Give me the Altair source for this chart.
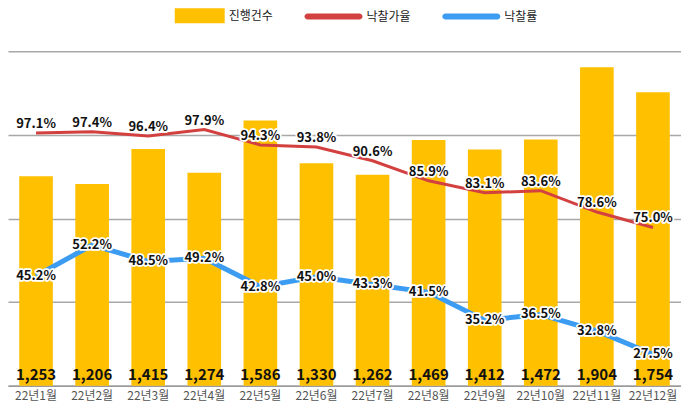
import altair as alt
import pandas as pd

months = ["22년1월", "22년2월", "22년3월", "22년4월", "22년5월", "22년6월",
          "22년7월", "22년8월", "22년9월", "22년10월", "22년11월", "22년12월"]
counts = [1253, 1206, 1415, 1274, 1586, 1330, 1262, 1469, 1412, 1472, 1904, 1754]
price_rate = [97.1, 97.4, 96.4, 97.9, 94.3, 93.8, 90.6, 85.9, 83.1, 83.6, 78.6, 75.0]
sale_rate = [45.2, 52.2, 48.5, 49.2, 42.8, 45.0, 43.3, 41.5, 35.2, 36.5, 32.8, 27.5]

series_names = ["진행건수", "낙찰가율", "낙찰률"]
series_colors = ["#FFC000", "#D2403F", "#3C9CF2"]

df = pd.DataFrame({
    "month": months,
    "count": counts,
    "price": price_rate,
    "sale": sale_rate,
    "series": series_names[0],
})
df["price_label"] = [f"{v:.1f}%" for v in price_rate]
df["sale_label"] = [f"{v:.1f}%" for v in sale_rate]

font = "Noto Sans CJK KR"

x = alt.X(
    "month:N", sort=months, title=None,
    scale=alt.Scale(paddingInner=0.4, paddingOuter=0.2),
    axis=alt.Axis(labelAngle=0, ticks=False, domainColor="#9a9a9a", domainWidth=1.5,
                  labelFontSize=12, labelColor="#555", labelPadding=5, labelFont=font,
                  grid=False),
)

base = alt.Chart(df)

bar_shape = "M-5.667,-1H1V1H-5.667Z"
line_shape = "M-6.333,-0.4H0.6A0.4,0.4 0 0 1 0.6,0.4H-6.333A0.4,0.4 0 0 1 -6.333,-0.4Z"

legend = alt.Legend(
    title=None, orient="none", legendX=202, legendY=-43, direction="horizontal",
    symbolType={"expr": f"datum.value === '진행건수' ? '{bar_shape}' : '{line_shape}'"},
    symbolSize=225, symbolOpacity=1, symbolStrokeWidth=0,
    labelFont=font, labelFontSize=12, labelColor="#222", labelOffset=4,
    columnPadding=31,
)

bars = base.mark_bar(opacity=1).encode(
    x=x,
    y=alt.Y("count:Q", scale=alt.Scale(domain=[0, 2000]),
            axis=alt.Axis(values=[0, 500, 1000, 1500, 2000], labels=False, ticks=False,
                          domain=False, title=None, gridColor="#a8a8a8", gridWidth=1.5)),
    color=alt.Color("series:N", scale=alt.Scale(domain=series_names, range=series_colors),
                    legend=legend),
)
bar_text = base.mark_text(font=font, fontSize=15, fontWeight="bold", color="#111",
                          baseline="middle", dy=-11).encode(
    x=x, y=alt.datum(0), text=alt.Text("count:Q", format=","))

red_y = alt.Y("price:Q", scale=alt.Scale(domain=[38.0, 116.2]), axis=None)
red_line = base.mark_line(color=series_colors[1], strokeWidth=3).encode(x=x, y=red_y)
red_halo = base.mark_text(font=font, fontSize=13, fontWeight="bold", stroke="white",
                          strokeWidth=3.5, strokeJoin="round", fill="white", dy=-9).encode(
    x=x, y=red_y, text="price_label:N")
red_text = base.mark_text(font=font, fontSize=13, fontWeight="bold", color="#111", dy=-9).encode(
    x=x, y=red_y, text="price_label:N")

blue_y = alt.Y("sale:Q", scale=alt.Scale(domain=[20.4, 96.0]), axis=None)
blue_line = base.mark_line(color=series_colors[2], strokeWidth=5).encode(x=x, y=blue_y)
blue_halo = base.mark_text(font=font, fontSize=13, fontWeight="bold", stroke="white",
                           strokeWidth=3.5, strokeJoin="round", fill="white").encode(
    x=x, y=blue_y, text="sale_label:N")
blue_text = base.mark_text(font=font, fontSize=13, fontWeight="bold", color="#111").encode(
    x=x, y=blue_y, text="sale_label:N")

chart = alt.layer(
    alt.layer(bars, bar_text),
    alt.layer(red_line, red_halo, red_text),
    alt.layer(blue_line, blue_halo, blue_text),
).resolve_scale(y="independent").properties(
    width=674, height=335,
    padding={"left": 0, "right": 0, "top": 0, "bottom": 0},
    background="white",
).configure_view(stroke=None)

chart.save("out.html", embed_options={"renderer": "svg", "actions": False})
